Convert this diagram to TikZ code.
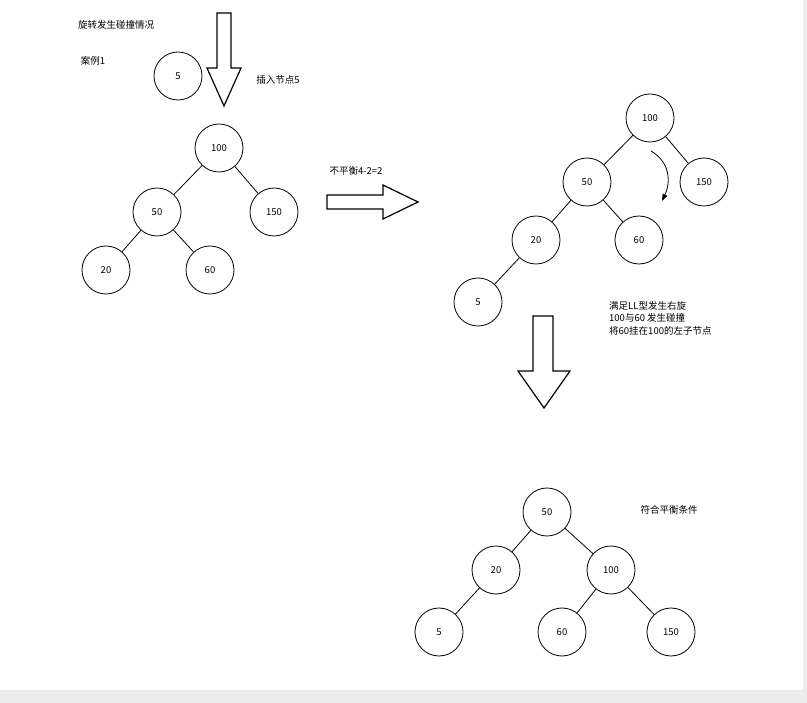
\documentclass[tikz,border=0pt]{standalone}
\usepackage{fontspec}
\setmainfont{Noto Sans CJK SC}
\usetikzlibrary{arrows.meta}
\begin{document}
\begin{tikzpicture}[x=1pt,y=-1pt,
  nd/.style={circle,draw,line width=0.8pt,minimum size=48pt,inner sep=0pt,font=\fontsize{9.5}{11}\selectfont},
  ed/.style={line width=0.8pt},
  lbl/.style={font=\fontsize{9.5}{12.5}\selectfont,inner sep=0pt},
  bigarrow/.style={draw,line width=1.2pt,fill=white,line join=miter}]
\fill[white] (0,0) rectangle (807,703);
\fill[gray!15] (0,690) rectangle (807,703);
\fill[gray!15] (803,0) rectangle (807,703);
\useasboundingbox (0,0) rectangle (807,703);
% texts
\node[lbl] (t1) at (116,25) {旋转发生碰撞情况};
\node[lbl] (t2) at (93,61) {案例1};
\node[lbl] (t3) at (278,80) {插入节点5};
\node[lbl] (t4) at (356,171) {不平衡4-2=2};
\node[lbl,align=left,anchor=west] (t5) at (609,318) {满足LL型发生右旋\\100与60 发生碰撞\\将60挂在100的左子节点};
\node[lbl] (t6) at (669,510) {符合平衡条件};
% arrows
\draw[bigarrow] (217,13) -- (231,13) -- (231,68) -- (241,68) -- (224,106) -- (207,68) -- (217,68) -- cycle;
\draw[bigarrow] (327,195) -- (383,195) -- (383,185) -- (418,202) -- (383,219) -- (383,209) -- (327,209) -- cycle;
\draw[bigarrow] (533,316) -- (553,316) -- (553,371) -- (570,371) -- (544,408) -- (518,371) -- (533,371) -- cycle;
% tree 1
\node[nd] (n5) at (178,76) {5};
\node[nd] (a100) at (219,148) {100};
\node[nd] (a50) at (157,212) {50};
\node[nd] (a150) at (274,212) {150};
\node[nd] (a20) at (106,270) {20};
\node[nd] (a60) at (210,270) {60};
\draw[ed] (a100)--(a50); \draw[ed] (a100)--(a150);
\draw[ed] (a50)--(a20); \draw[ed] (a50)--(a60);
% tree 2
\node[nd] (b100) at (650,118) {100};
\node[nd] (b50) at (587,182) {50};
\node[nd] (b150) at (704,182) {150};
\node[nd] (b20) at (536,240) {20};
\node[nd] (b60) at (639,240) {60};
\node[nd] (b5) at (478,302) {5};
\draw[ed] (b100)--(b50); \draw[ed] (b100)--(b150);
\draw[ed] (b50)--(b20); \draw[ed] (b50)--(b60); \draw[ed] (b20)--(b5);
\coordinate (c1) at (651,151);
\coordinate (c2) at (662,201);
\draw[line width=0.8pt,-{Triangle[length=7pt,width=5pt]}] (c1) .. controls (670,162) and (671,182) .. (c2);
% tree 3
\node[nd] (c50) at (547,512) {50};
\node[nd] (c20) at (496,570) {20};
\node[nd] (c100) at (611,570) {100};
\node[nd] (c5) at (439,632) {5};
\node[nd] (c60) at (562,632) {60};
\node[nd] (c150) at (671,632) {150};
\draw[ed] (c50)--(c20); \draw[ed] (c50)--(c100);
\draw[ed] (c20)--(c5); \draw[ed] (c100)--(c60); \draw[ed] (c100)--(c150);
\end{tikzpicture}
\end{document}
